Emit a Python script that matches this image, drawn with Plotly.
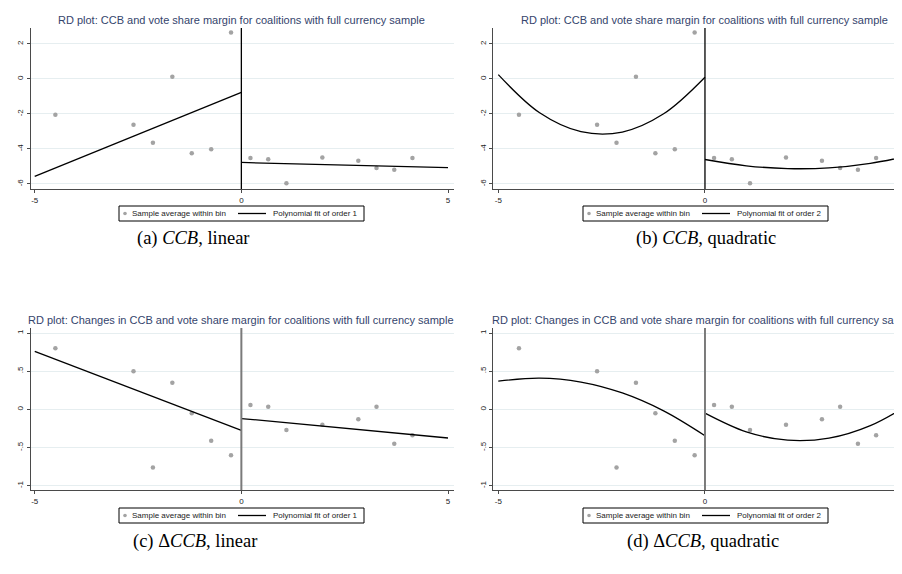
import plotly.graph_objects as go

# ---------------- data ----------------
bin_x = [-4.50, -2.61, -2.14, -1.67, -1.20, -0.73, -0.25, 0.22, 0.65, 1.09, 1.96, 2.83, 3.27, 3.70, 4.14]

ccb_bin = [-2.05, -2.62, -3.65, 0.13, -4.25, -4.01, 2.66, -4.52, -4.59, -5.96, -4.48, -4.67, -5.09, -5.18, -4.52]
dccb_bin = [0.80, 0.50, -0.76, 0.35, -0.05, -0.41, -0.60, 0.057, 0.035, -0.27, -0.20, -0.13, 0.035, -0.45, -0.34]

# linear fits (end points)
lin_left_x = [-5, 0]
lin_right_x = [0, 5]
ccb_lin_left = [-5.56, -0.76]
ccb_lin_right = [-4.77, -5.07]
dccb_lin_left = [0.76, -0.275]
dccb_lin_right = [-0.12, -0.375]

# quadratic fits (curve read at unit steps)
quad_left_x = [-5, -4, -3, -2, -1, 0]
quad_right_x = [0, 1, 2, 3, 4, 5]
ccb_quad_left = [0.25, -1.93, -3.01, -3.03, -1.99, 0.10]
ccb_quad_right = [-4.60, -4.96, -5.12, -5.08, -4.82, -4.36]
dccb_quad_left = [0.37, 0.41, 0.358, 0.215, -0.02, -0.345]
dccb_quad_right = [-0.05, -0.295, -0.404, -0.377, -0.213, 0.085]

cutoff = 0

x_ticks = [-5, 0, 5]
x_tick_text = ["-5", "0", "5"]
ccb_ticks = [-6, -4, -2, 0, 2]
ccb_tick_text = ["-6", "-4", "-2", "0", "2"]
dccb_ticks = [-1, -0.5, 0, 0.5, 1]
dccb_tick_text = ["-1", "-.5", "0", ".5", "1"]

title_top = "RD plot: CCB and vote share margin for coalitions with full currency sample"
title_bot = "RD plot: Changes in CCB and vote share margin for coalitions with full currency sample"
captions = ["(a) <i>CCB</i>, linear", "(b) <i>CCB</i>, quadratic",
            "(c) Δ<i>CCB</i>, linear", "(d) Δ<i>CCB</i>, quadratic"]
legend_dots = "Sample average within bin"
legend_fit = ["Polynomial fit of order 1", "Polynomial fit of order 2",
              "Polynomial fit of order 1", "Polynomial fit of order 2"]

# ---------------- styling ----------------
W, H = 902, 574
PT_COLOR = "#a3a3a3"
GRID = "#e6eef0"
AXIS = "#4a4a4a"
TITLE_COLOR = "#34446c"
SANS = "Liberation Sans, Arial, sans-serif"
SERIF = "Liberation Serif, Times New Roman, serif"


def px_x(p):
    return p / W


def px_y(p):
    return 1 - p / H


fig = go.Figure()

panels = [
    dict(ax="", yv=ccb_bin, fl=(lin_left_x, ccb_lin_left), fr=(lin_right_x, ccb_lin_right), shape="linear"),
    dict(ax="2", yv=ccb_bin, fl=(quad_left_x, ccb_quad_left), fr=(quad_right_x, ccb_quad_right), shape="spline"),
    dict(ax="3", yv=dccb_bin, fl=(lin_left_x, dccb_lin_left), fr=(lin_right_x, dccb_lin_right), shape="linear"),
    dict(ax="4", yv=dccb_bin, fl=(quad_left_x, dccb_quad_left), fr=(quad_right_x, dccb_quad_right), shape="spline"),
]

for i, p in enumerate(panels):
    xa, ya = "x" + p["ax"], "y" + p["ax"]
    fig.add_trace(go.Scatter(x=bin_x, y=p["yv"], mode="markers", xaxis=xa, yaxis=ya,
                             marker=dict(color=PT_COLOR, size=4.5),
                             name=legend_dots, showlegend=False))
    for fx, fy in (p["fl"], p["fr"]):
        fig.add_trace(go.Scatter(x=fx, y=fy, mode="lines", xaxis=xa, yaxis=ya,
                                 line=dict(color="black", width=1.3, shape=p["shape"], smoothing=1.0),
                                 name=legend_fit[i], showlegend=False))

# axis geometry (pixels)
left_dom = [px_x(22.7), px_x(445.5)]
right_dom = [px_x(485), 1.0]
left_range = [-5.097, 5.133]
right_range = [-5.128, 4.960]
top_dom = [px_y(181), px_y(20)]
bot_dom = [px_y(482), px_y(320)]
ccb_range = [-6.286, 2.914]
dccb_range = [-1.056, 1.0655]

common_x = dict(showgrid=False, zeroline=False, showline=True, linecolor=AXIS, linewidth=1.2,
                ticks="outside", ticklen=3, tickcolor=AXIS, tickvals=x_ticks, ticktext=x_tick_text,
                tickfont=dict(family=SANS, size=8, color="#222"))
common_y = dict(showgrid=True, gridcolor=GRID, gridwidth=1, zeroline=False, showline=True,
                linecolor=AXIS, linewidth=1.2, ticks="outside", ticklen=3, tickcolor=AXIS,
                tickangle=-90, tickfont=dict(family=SANS, size=8, color="#222"))

layout_axes = {}
spec = [("", left_dom, left_range, top_dom, ccb_range, ccb_ticks, ccb_tick_text),
        ("2", right_dom, right_range, top_dom, ccb_range, ccb_ticks, ccb_tick_text),
        ("3", left_dom, left_range, bot_dom, dccb_range, dccb_ticks, dccb_tick_text),
        ("4", right_dom, right_range, bot_dom, dccb_range, dccb_ticks, dccb_tick_text)]
for s, xd, xr, yd, yr, yt, ytt in spec:
    layout_axes["xaxis" + s] = dict(common_x, domain=xd, range=xr, anchor="y" + s)
    layout_axes["yaxis" + s] = dict(common_y, domain=yd, range=yr, anchor="x" + s,
                                    tickvals=yt, ticktext=ytt)

shapes = []
annotations = []

# cutoff lines
for s, col, wd in [("", "black", 1.3), ("2", "black", 1.3), ("3", "#7a7a7a", 2), ("4", "#7a7a7a", 2)]:
    shapes.append(dict(type="line", xref="x" + s, yref="y" + s + " domain",
                       x0=cutoff, x1=cutoff, y0=0, y1=1, line=dict(color=col, width=wd)))

# panel titles (the right-hand panels run past the page edge, as in the reference)
for s, t, ypx in [("", title_top, 12), ("2", title_top, 12), ("3", title_bot, 312), ("4", title_bot, 312)]:
    annotations.append(dict(text=t, xref="x" + s, yref="paper", x=cutoff, y=px_y(ypx),
                            xanchor="center", yanchor="middle", showarrow=False,
                            font=dict(family=SANS, size=11, color=TITLE_COLOR)))

# captions
for cap, cx, cy in zip(captions, [185, 698, 187, 695], [230, 230, 533, 533]):
    annotations.append(dict(text=cap, xref="paper", yref="paper", x=px_x(cx), y=px_y(cy),
                            xanchor="center", yanchor="middle", showarrow=False,
                            font=dict(family=SERIF, size=18.5, color="black")))

# legend boxes (drawn as layout decorations under each panel)
for i, (cx, top) in enumerate([(233.5, 198), (697.5, 198), (233.5, 500), (697.5, 500)]):
    bot = top + 15
    mid = (top + bot) / 2
    shapes.append(dict(type="rect", xref="paper", yref="paper",
                       x0=px_x(cx - 122.5), x1=px_x(cx + 122.5), y0=px_y(bot), y1=px_y(top),
                       line=dict(color="black", width=1), fillcolor="white"))
    shapes.append(dict(type="circle", xref="paper", yref="paper",
                       x0=px_x(cx - 118.3), x1=px_x(cx - 114.7), y0=px_y(mid + 1.8), y1=px_y(mid - 1.8),
                       line=dict(color=PT_COLOR, width=0), fillcolor=PT_COLOR))
    shapes.append(dict(type="line", xref="paper", yref="paper",
                       x0=px_x(cx - 3.5), x1=px_x(cx + 24.5), y0=px_y(mid), y1=px_y(mid),
                       line=dict(color="black", width=1.3)))
    annotations.append(dict(text=legend_dots, xref="paper", yref="paper", x=px_x(cx - 111.5),
                            y=px_y(mid), xanchor="left", yanchor="middle", showarrow=False,
                            font=dict(family=SANS, size=8, color="#222")))
    annotations.append(dict(text=legend_fit[i], xref="paper", yref="paper", x=px_x(cx + 29.5),
                            y=px_y(mid), xanchor="left", yanchor="middle", showarrow=False,
                            font=dict(family=SANS, size=8, color="#222")))

fig.update_layout(width=W, height=H, autosize=False, margin=dict(l=0, r=0, t=0, b=0),
                  paper_bgcolor="white", plot_bgcolor="white", showlegend=False,
                  shapes=shapes, annotations=annotations, **layout_axes)

fig.write_html("out.html")
